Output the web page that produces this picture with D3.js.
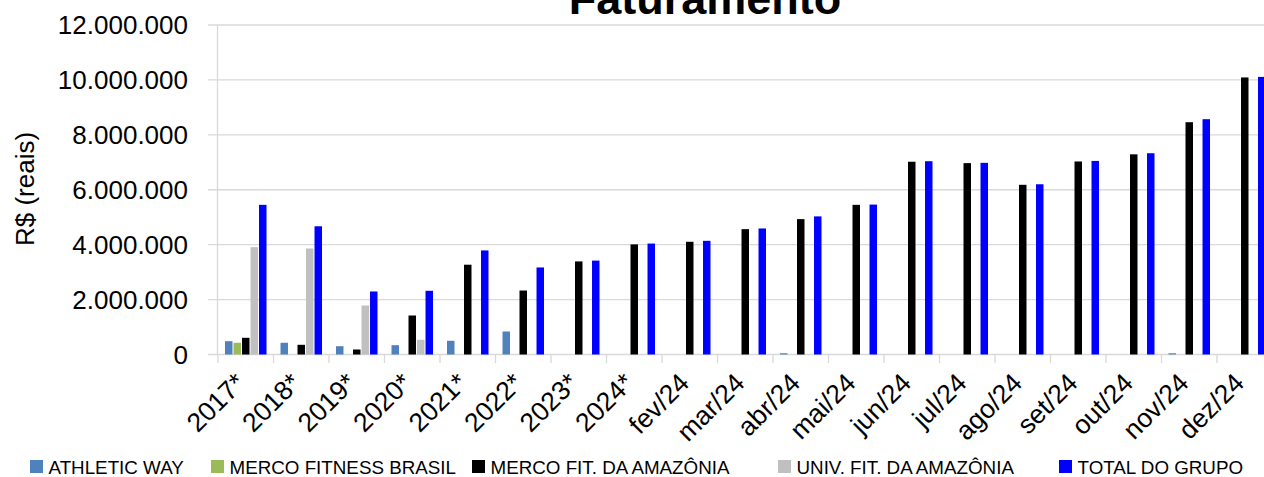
<!DOCTYPE html>
<html>
<head>
<meta charset="utf-8">
<script src="https://cdn.jsdelivr.net/npm/d3@7"></script>
<style>
  html, body { margin: 0; padding: 0; background: #fff; }
  svg { display: block; }
  text { font-family: "Liberation Sans", Arial, sans-serif; fill: #000; }
</style>
</head>
<body>
<svg id="chart" width="1264" height="477"></svg>
<script>
const categories = ["2017*","2018*","2019*","2020*","2021*","2022*","2023*","2024*","fev/24","mar/24","abr/24","mai/24","jun/24","jul/24","ago/24","set/24","out/24","nov/24","dez/24"];
const seriesNames = ["ATHLETIC WAY","MERCO FITNESS BRASIL","MERCO FIT. DA AMAZÔNIA","UNIV. FIT. DA AMAZÔNIA","TOTAL DO GRUPO"];
const athleticWay      = [485000, 427000, 302000, 340000, 500000, 838000, 0, 0, 0, 0, 45000, 0, 0, 0, 0, 0, 0, 45000, 0];
const mercoFitBrasil   = [427000, 0, 0, 0, 0, 0, 0, 0, 0, 0, 0, 0, 0, 0, 0, 0, 0, 0, 0];
const mercoFitAmazonia = [608000, 353000, 182000, 1420000, 3270000, 2330000, 3390000, 4010000, 4105000, 4565000, 4930000, 5450000, 7020000, 6970000, 6180000, 7030000, 7290000, 8460000, 10090000];
const univFitAmazonia  = [3910000, 3860000, 1785000, 535000, 0, 0, 0, 0, 0, 0, 0, 0, 0, 0, 0, 0, 0, 0, 0];
const totalGrupo       = [5450000, 4670000, 2295000, 2320000, 3790000, 3170000, 3420000, 4040000, 4140000, 4590000, 5030000, 5460000, 7040000, 6980000, 6200000, 7050000, 7330000, 8570000, 10110000];
const yTicks = [0, 2000000, 4000000, 6000000, 8000000, 10000000, 12000000];
const titleText = "Faturamento";
const yTitle = "R$ (reais)";

const seriesValues = [athleticWay, mercoFitBrasil, mercoFitAmazonia, univFitAmazonia, totalGrupo];
const colors = ["#4f81bd", "#9bbb59", "#000000", "#c0c0c0", "#0000ff"];

const svg = d3.select("#chart");
const left = 218, catW = 55.5;
const x = d3.scaleBand().domain(categories).range([left, left + catW * categories.length]).padding(0);
const x1 = d3.scaleBand().domain(d3.range(seriesNames.length)).range([7, 48.5]).paddingInner(0.12).paddingOuter(0);
const y = d3.scaleLinear().domain([0, 12000000]).range([354.5, 25]);

const loc = d3.formatLocale({decimal: ",", thousands: ".", grouping: [3], currency: ["R$", ""]});
const fmt = loc.format(",d");

// gridlines + y tick marks
svg.append("g").selectAll("line").data(yTicks).join("line")
  .attr("x1", 208).attr("x2", 1264)
  .attr("y1", d => y(d)).attr("y2", d => y(d))
  .attr("stroke", "#d9d9d9").attr("stroke-width", 1.3);

// y axis line
svg.append("line").attr("x1", left - 0.5).attr("x2", left - 0.5).attr("y1", y(12000000)).attr("y2", y(0))
  .attr("stroke", "#d9d9d9").attr("stroke-width", 1.3);

// x tick marks at category boundaries
const bounds = categories.map(c => x(c));
svg.append("g").selectAll("line").data(bounds).join("line")
  .attr("x1", d => d).attr("x2", d => d).attr("y1", y(0)).attr("y2", y(0) + 8.5)
  .attr("stroke", "#d9d9d9").attr("stroke-width", 1.3);

// bars
const barData = [];
categories.forEach((c, i) => {
  seriesValues.forEach((vals, s) => {
    if (vals[i] > 0) barData.push({c, s, v: vals[i]});
  });
});
svg.append("g").selectAll("rect").data(barData).join("rect")
  .attr("x", d => x(d.c) + x1(d.s))
  .attr("width", x1.bandwidth())
  .attr("y", d => y(d.v))
  .attr("height", d => y(0) - y(d.v))
  .attr("fill", d => colors[d.s]);

// y tick labels
svg.append("g").selectAll("text").data(yTicks).join("text")
  .attr("x", 188).attr("y", d => y(d)).attr("dy", "0.36em")
  .attr("text-anchor", "end").attr("font-size", 26)
  .text(d => fmt(d));

// x labels
svg.append("g").selectAll("text").data(categories).join("text")
  .attr("transform", d => `translate(${x(d) + x.bandwidth() / 2 + 1},${y(0) + 30}) rotate(-45)`)
  .attr("text-anchor", "end").attr("font-size", 26.5)
  .text(d => d);

// y title
svg.append("text").attr("transform", "translate(34,189) rotate(-90)")
  .attr("text-anchor", "middle").attr("font-size", 26).text(yTitle);

// title
svg.append("text").attr("x", 705).attr("y", 14).attr("text-anchor", "middle")
  .attr("font-size", 45).attr("font-weight", "bold").text(titleText);

// legend
const legX = [30, 211, 472, 778, 1059];
const leg = svg.append("g").selectAll("g").data(seriesNames).join("g")
  .attr("transform", (d, i) => `translate(${legX[i]},460)`);
leg.append("rect").attr("width", 13).attr("height", 13).attr("fill", (d, i) => colors[i]);
leg.append("text").attr("x", 18.5).attr("y", 13.5).attr("font-size", 18.8).text(d => d);
</script>
</body>
</html>
